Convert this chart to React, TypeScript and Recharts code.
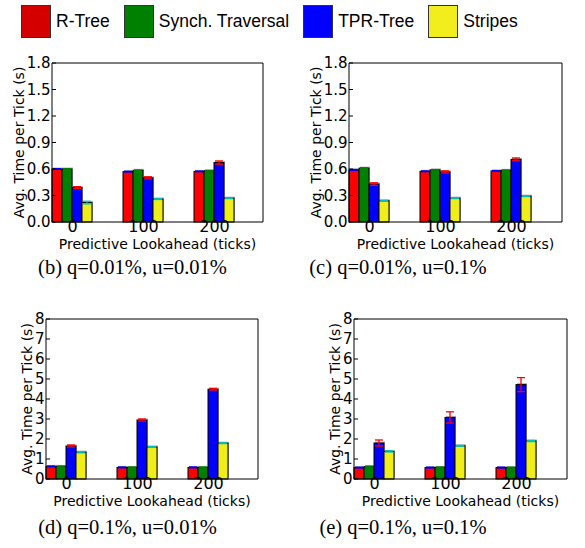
import React from 'react';
import { BarChart, Bar, XAxis, YAxis, ErrorBar } from 'recharts';

const LOOKAHEAD = ['0', '100', '200'];
const SERIES = ['R-Tree', 'Synch. Traversal', 'TPR-Tree', 'Stripes'];
const KEYS = ['rtree', 'synch', 'tpr', 'stripes'];

// (b) q=0.01%, u=0.01%
const B_RTREE = [0.6, 0.57, 0.573];
const B_SYNCH = [0.6, 0.585, 0.58];
const B_TPR = [0.39, 0.5, 0.673];
const B_STRIPES = [0.22, 0.26, 0.27];
const B_RTREE_ERR = [0.004, 0.004, 0.004];
const B_SYNCH_ERR = [0.003, 0.003, 0.003];
const B_TPR_ERR = [0.01, 0.012, 0.018];
const B_STRIPES_ERR = [0.015, 0.005, 0.005];

// (c) q=0.01%, u=0.1%
const C_RTREE = [0.59, 0.574, 0.578];
const C_SYNCH = [0.61, 0.59, 0.585];
const C_TPR = [0.43, 0.567, 0.709];
const C_STRIPES = [0.24, 0.27, 0.293];
const C_RTREE_ERR = [0.004, 0.004, 0.004];
const C_SYNCH_ERR = [0.003, 0.003, 0.003];
const C_TPR_ERR = [0.014, 0.012, 0.016];
const C_STRIPES_ERR = [0.005, 0.005, 0.005];

// (d) q=0.1%, u=0.01%
const D_RTREE = [0.63, 0.58, 0.58];
const D_SYNCH = [0.63, 0.58, 0.58];
const D_TPR = [1.65, 2.95, 4.49];
const D_STRIPES = [1.34, 1.6, 1.79];
const D_RTREE_ERR = [0.02, 0.02, 0.02];
const D_SYNCH_ERR = [0.02, 0.02, 0.02];
const D_TPR_ERR = [0.05, 0.05, 0.04];
const D_STRIPES_ERR = [0.03, 0.02, 0.02];

// (e) q=0.1%, u=0.1%
const E_RTREE = [0.57, 0.57, 0.57];
const E_SYNCH = [0.62, 0.58, 0.57];
const E_TPR = [1.8, 3.08, 4.72];
const E_STRIPES = [1.38, 1.66, 1.9];
const E_RTREE_ERR = [0.02, 0.02, 0.02];
const E_SYNCH_ERR = [0.02, 0.02, 0.02];
const E_TPR_ERR = [0.15, 0.28, 0.35];
const E_STRIPES_ERR = [0.03, 0.02, 0.03];

const SMALL_TICKS = [0, 0.3, 0.6, 0.9, 1.2, 1.5, 1.8];
const LARGE_TICKS = [0, 1, 2, 3, 4, 5, 6, 7, 8];

const BAR_COLORS = ['#ff0000', '#008000', '#0000ff', '#f0ee1a'];
const LEGEND_COLORS = ['#d40000', '#008000', '#0000ff', '#f2ee1e'];
const ERR_COLORS = ['#0000ff', '#008000', '#ff0000', '#00bfbf'];

const FONT = 'DejaVu Sans';

function rows(values: number[][], errs: number[][]) {
  return LOOKAHEAD.map((lookahead, i) => {
    const row: any = { lookahead };
    KEYS.forEach((k, s) => {
      row[k] = values[s][i];
      row[k + 'Err'] = errs[s][i];
    });
    return row;
  });
}

const ShadowBar = (props: any) => {
  const { x, y, width, height, fill } = props;
  if (!height) return null;
  return (
    <g>
      <rect x={x + 1} y={y - 1.5} width={width} height={height} fill="#b4b4b4" />
      <rect x={x} y={y} width={width} height={height} fill={fill} stroke="#000" strokeWidth={1} />
    </g>
  );
};

const Y_W = 40;
const X_H = 40;

interface PanelProps {
  data: any[];
  ticks: number[];
  small: boolean;
  plotX: number;
  plotY: number;
  plotW: number;
  plotH: number;
  caption: string;
  captionX: number;
  captionY: number;
}

function Panel({ data, ticks, small, plotX, plotY, plotW, plotH, caption, captionX, captionY }: PanelProps) {
  const left = plotX - Y_W;
  const top = plotY - 11;
  const width = plotW + Y_W + 11;
  const height = plotH + 11 + X_H;
  const fmt = (v: number) => (small ? v.toFixed(1) : String(v));
  const pad = { left: -15, right: plotW - 198 };
  const yMax = ticks[ticks.length - 1];
  const labelStyle = { fontFamily: FONT, fontSize: 14, fill: '#000', textAnchor: 'middle' as const };
  return (
    <>
      <div style={{ position: 'absolute', left, top }}>
        <BarChart
          width={width}
          height={height}
          data={data}
          margin={{ top: 10, right: 10, left: 0, bottom: 0 }}
          barCategoryGap={15}
          barGap={0}
        >
          <XAxis
            dataKey="lookahead"
            height={X_H}
            interval={0}
            padding={pad}
            tickSize={-4}
            tickMargin={3}
            axisLine={{ stroke: '#000' }}
            tickLine={{ stroke: '#000' }}
            tick={{ fontFamily: FONT, fontSize: 16, fill: '#000' }}
            label={{ value: 'Predictive Lookahead (ticks)', position: 'insideBottom', offset: 13, style: labelStyle }}
          />
          <XAxis
            xAxisId="top"
            orientation="top"
            dataKey="lookahead"
            height={1}
            interval={0}
            padding={pad}
            tickSize={-4}
            tick={false}
            axisLine={{ stroke: '#000' }}
            tickLine={{ stroke: '#000' }}
          />
          <YAxis
            type="number"
            domain={[0, yMax]}
            ticks={ticks}
            interval={0}
            width={Y_W}
            tickSize={-4}
            tickMargin={5.5}
            tickFormatter={fmt}
            axisLine={{ stroke: '#000' }}
            tickLine={{ stroke: '#000' }}
            tick={{ fontFamily: FONT, fontSize: 15, fill: '#000' }}
            label={{
              value: 'Avg. Time per Tick (s)',
              angle: -90,
              position: 'insideLeft',
              offset: small ? 7 : 21,
              style: labelStyle,
            }}
          />
          <YAxis
            yAxisId="right"
            orientation="right"
            type="number"
            domain={[0, yMax]}
            ticks={ticks}
            interval={0}
            width={1}
            tickSize={-4}
            tick={false}
            axisLine={{ stroke: '#000' }}
            tickLine={{ stroke: '#000' }}
          />
          {KEYS.map((k, s) => (
            <Bar key={k} dataKey={k} name={SERIES[s]} fill={BAR_COLORS[s]} shape={ShadowBar} isAnimationActive={false}>
              <ErrorBar dataKey={k + 'Err'} width={4} stroke={ERR_COLORS[s]} strokeWidth={1.3} isAnimationActive={false} />
            </Bar>
          ))}
        </BarChart>
      </div>
      <div
        style={{
          position: 'absolute',
          left: captionX - 150,
          top: captionY,
          width: 300,
          textAlign: 'center',
          fontFamily: 'Liberation Serif',
          fontSize: 20.5,
          lineHeight: '20px',
          color: '#000',
          whiteSpace: 'nowrap',
        }}
      >
        {caption}
      </div>
    </>
  );
}

function Legend() {
  return (
    <div style={{ position: 'absolute', left: 21, top: 5, display: 'flex', alignItems: 'center', height: 32 }}>
      {SERIES.map((name, s) => (
        <div key={name} style={{ display: 'flex', alignItems: 'center', marginRight: 14 }}>
          <div
            style={{
              width: 28,
              height: 31,
              background: LEGEND_COLORS[s],
              border: '1px solid #333',
              marginRight: 5,
            }}
          />
          <span style={{ fontFamily: 'Liberation Sans', fontSize: 17.5, color: '#000' }}>{name}</span>
        </div>
      ))}
    </div>
  );
}

export default function App() {
  const dataB = rows([B_RTREE, B_SYNCH, B_TPR, B_STRIPES], [B_RTREE_ERR, B_SYNCH_ERR, B_TPR_ERR, B_STRIPES_ERR]);
  const dataC = rows([C_RTREE, C_SYNCH, C_TPR, C_STRIPES], [C_RTREE_ERR, C_SYNCH_ERR, C_TPR_ERR, C_STRIPES_ERR]);
  const dataD = rows([D_RTREE, D_SYNCH, D_TPR, D_STRIPES], [D_RTREE_ERR, D_SYNCH_ERR, D_TPR_ERR, D_STRIPES_ERR]);
  const dataE = rows([E_RTREE, E_SYNCH, E_TPR, E_STRIPES], [E_RTREE_ERR, E_SYNCH_ERR, E_TPR_ERR, E_STRIPES_ERR]);
  return (
    <div style={{ position: 'absolute', left: 0, top: 0, width: 585, height: 548, background: '#fff', overflow: 'hidden' }}>
      <Legend />
      <Panel data={dataB} ticks={SMALL_TICKS} small plotX={52} plotY={63} plotW={211} plotH={159}
        caption="(b) q=0.01%, u=0.01%" captionX={132.5} captionY={257} />
      <Panel data={dataC} ticks={SMALL_TICKS} small plotX={349} plotY={63} plotW={213} plotH={159}
        caption="(c) q=0.01%, u=0.1%" captionX={398} captionY={257} />
      <Panel data={dataD} ticks={LARGE_TICKS} small={false} plotX={46} plotY={319} plotW={212} plotH={160}
        caption="(d) q=0.1%, u=0.01%" captionX={127.5} captionY={517} />
      <Panel data={dataE} ticks={LARGE_TICKS} small={false} plotX={354} plotY={319} plotW={213} plotH={160}
        caption="(e) q=0.1%, u=0.1%" captionX={403} captionY={517} />
    </div>
  );
}
